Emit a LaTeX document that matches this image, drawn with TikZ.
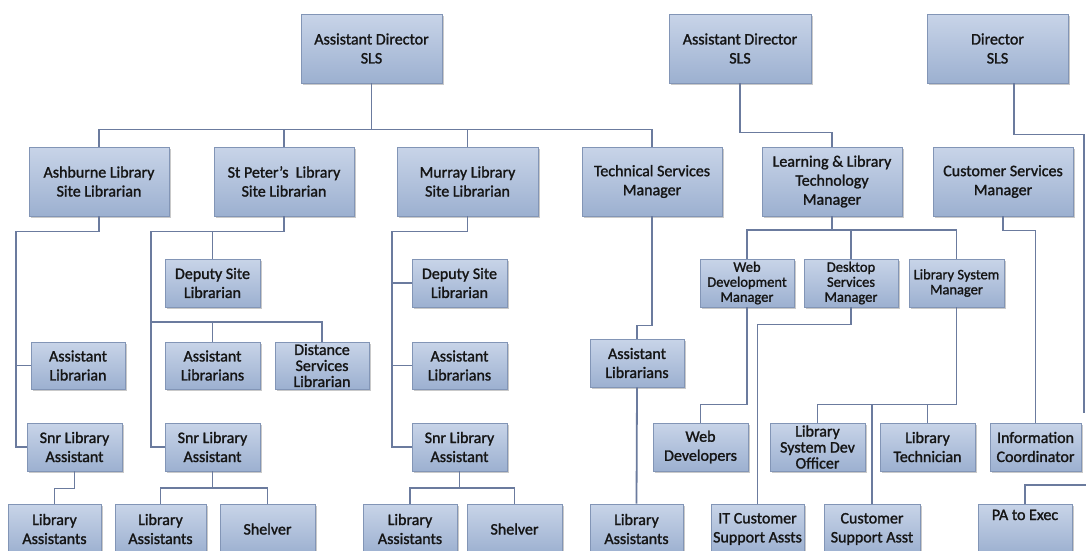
\documentclass[tikz,border=0pt]{standalone}
\usepackage{fontspec}
\setmainfont{Carlito}[FakeBold=1.4]
\usetikzlibrary{calc,shadows}
\definecolor{boxtop}{HTML}{C8D4E8}
\definecolor{boxbot}{HTML}{9CB0D0}
\definecolor{boxline}{HTML}{8295B6}
\definecolor{connc}{HTML}{6B7B9E}
\definecolor{txt}{HTML}{151515}
\newcommand\bx[7][]{\node[box,#1,minimum width={(#5)-(#3)},minimum height={(#6)-(#4)}] (#2) at ({((#3)+(#5))/2},{((#4)+(#6))/2}) {#7};}
\begin{document}
\begin{tikzpicture}[x=1pt,y=-1pt,
  box/.style={draw=boxline,line width=0.8pt,top color=boxtop,bottom color=boxbot,
    inner sep=0pt,align=center,font=\fontsize{16}{19}\selectfont,text=txt,
    drop shadow={shadow xshift=1.5pt,shadow yshift=-1.5pt,opacity=0.35,fill=black!60}},
  tight/.style={font=\fontsize{16}{16}\selectfont},
  small/.style={font=\fontsize{14.5}{15}\selectfont},
  connline/.style={draw=connc,line width=1.8pt}]
\useasboundingbox (0,0) rectangle (1086,550);
\clip (0,0) rectangle (1086,550);
\fill[white] (0,0) rectangle (1086,550);

\coordinate (dirend) at (1084,413);
\coordinate (paend) at (1092,485);

% row 1
\bx{ad1}{301}{14}{442}{83}{Assistant Director\\SLS}
\bx{ad2}{669}{14}{811}{83}{Assistant Director\\SLS}
\bx{dir}{927}{14}{1068}{83}{Director\\SLS}
% row 2
\bx{ash}{29}{147}{169}{216}{Ashburne Library\\Site Librarian}
\bx{stp}{214}{147}{354}{216}{St Peter’s\ \ Library\\Site Librarian}
\bx{mur}{397}{147}{538}{216}{Murray Library\\Site Librarian}
\bx{tech}{582}{147}{722}{216}{Technical Services\\Manager}
\bx{llt}{762}{147}{902}{216}{Learning \& Library\\Technology\\Manager}
\bx{cs}{933}{147}{1073}{216}{Customer Services\\Manager}
% row 3
\bx{stpdep}{165}{259}{260}{307}{Deputy Site\\Librarian}
\bx{murdep}{412}{259}{507}{307}{Deputy Site\\Librarian}
\bx[small]{wdm}{700}{259}{794}{307}{Web\\Development\\Manager}
\bx[small]{dsm}{804}{259}{898}{307}{Desktop\\Services\\Manager}
\bx[small]{lsm}{909}{259}{1004}{307}{Library System\\Manager}
% row 4
\bx{ashal}{31}{342}{125}{389}{Assistant\\Librarian}
\bx{stpal}{165}{342}{260}{389}{Assistant\\Librarians}
\bx[tight]{dsl}{275}{342}{369}{389}{Distance\\Services\\Librarian}
\bx{mural}{412}{342}{507}{389}{Assistant\\Librarians}
\bx{techal}{590}{339}{684}{387}{Assistant\\Librarians}
% row 5
\bx{ashsnr}{27}{423}{122}{471}{Snr Library\\Assistant}
\bx{stpsnr}{165}{423}{260}{471}{Snr Library\\Assistant}
\bx{mursnr}{412}{423}{507}{471}{Snr Library\\Assistant}
\bx{webdev}{653}{423}{748}{471}{Web\\Developers}
\bx[tight]{lsdo}{770}{423}{865}{471}{Library\\System Dev\\Officer}
\bx{libtech}{880}{423}{975}{471}{Library\\Technician}
\bx{info}{990}{423}{1081}{471}{Information\\Coordinator}
% row 6
\bx{ashla}{8}{504}{101}{554}{Library\\Assistants}
\bx{stpla}{115}{504}{206}{554}{Library\\Assistants}
\bx{stpsh}{220}{504}{315}{554}{Shelver}
\bx{murla}{363}{504}{457}{554}{Library\\Assistants}
\bx{mursh}{467}{504}{562}{554}{Shelver}
\bx{techla}{590}{504}{683}{554}{Library\\Assistants}
\bx{itcsa}{711}{504}{804}{554}{IT Customer\\Support Assts}
\bx{csa}{824}{504}{920}{554}{Customer\\Support Asst}
\bx[text height=11pt,text depth=29pt]{pa}{978}{504}{1072}{554}{PA to Exec}

\begin{scope}[connline]
% Assistant Director 1
\draw (ad1.south) -- ++(0,46) -| (ash.north);
\draw (ad1.south) -- ++(0,46) -| (stp.north);
\draw (ad1.south) -- ++(0,46) -| (mur.north);
\draw (ad1.south) -- ++(0,46) -| (tech.north);
% Assistant Director 2
\draw (ad2.south) -- ++(0,49) -| (llt.north);
% Director
\draw ($(dir.south)+(16.5,0)$) -- ++(0,51) -| (dirend);
\draw (paend) -| (pa.north);
\draw (cs.south) -- ++(0,14) -| (info.north);
% Ashburne
\draw (ash.south) -- ++(0,15) -| ($(ashsnr.west)+(-11,0)$) -- (ashsnr.west);
\draw (ashal.west) -- ++(-15,0);
\draw (ashsnr.south) -- ++(0,17) -| (ashla.north);
% St Peter's
\draw (stp.south) -- ++(0,15) -| ($(stpsnr.west)+(-14,0)$) -- (stpsnr.west);
\draw (stpdep.north) -- ++(0,-28);
\draw (dsl.north) -- ++(0,-20) -| ($(stpsnr.west)+(-14,0)$);
\draw (stpal.north) -- ++(0,-20);
\draw (stpsnr.south) -- ++(0,17);
\draw (stpla.north) -- ++(0,-16) -| (stpsh.north);
% Murray
\draw (mur.south) -- ++(0,15) -| ($(mursnr.west)+(-20,0)$) -- (mursnr.west);
\draw (murdep.west) -- ++(-20,0);
\draw (mural.west) -- ++(-20,0);
\draw (mursnr.south) -- ++(0,17);
\draw (murla.north) -- ++(0,-16) -| (mursh.north);
% Technical services
\draw (tech.south) -- ++(0,109) -| (techal.north);
\draw (techal.south) -- (techla.north);
% Learning & Library Technology
\draw (llt.south) -- ++(0,14);
\draw (wdm.north) -- ++(0,-29) -| (lsm.north);
\draw (dsm.north) -- ++(0,-29);
\draw (wdm.south) -- ++(0,97) -| (webdev.north);
\draw (dsm.south) -- ++(0,17) -| (itcsa.north);
\draw (lsm.south) -- ++(0,97) -| (lsdo.north);
\draw (libtech.north) -- ++(0,-19);
\draw (csa.north) -- ++(0,-100);
\end{scope}
\end{tikzpicture}
\end{document}
